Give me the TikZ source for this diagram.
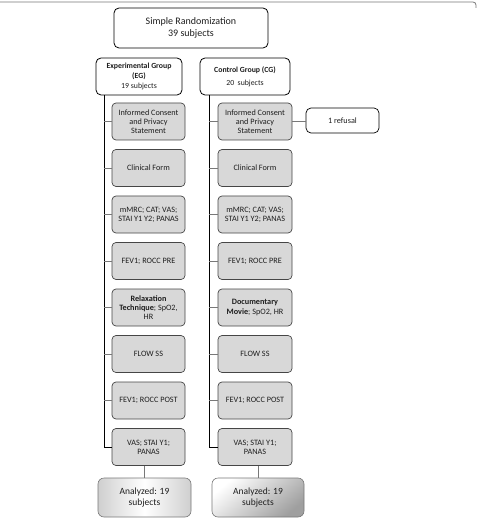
\documentclass[tikz,border=0pt]{standalone}
\usepackage{fontspec}
\setmainfont{Carlito}
\usetikzlibrary{positioning}
\usepackage{xcolor}
\definecolor{stepgray}{RGB}{216,216,216}
\definecolor{edgegray}{RGB}{70,70,70}
\definecolor{linegray}{RGB}{120,120,120}
\definecolor{textdark}{RGB}{30,30,30}

\begin{document}
\begin{tikzpicture}[
  x=1pt, y=1pt,
  node distance=8.8pt,
  headbox/.style={rectangle, rounded corners=5pt, draw=black, fill=white, align=center, line width=0.8pt, text=textdark},
  stepbox/.style={rectangle, rounded corners=4pt, draw=edgegray, fill=stepgray, align=center, font=\fontsize{8.2}{9.2}\selectfont, minimum width=73pt, minimum height=37pt, inner sep=1pt, line width=0.7pt, text=textdark},
  endbox/.style={rectangle, rounded corners=6pt, draw=linegray, align=center, font=\fontsize{9.5}{11.5}\selectfont, minimum width=92pt, minimum height=39pt, line width=0.6pt, text=textdark},
  trunk/.style={line width=0.9pt, draw=black},
  tick/.style={line width=0.6pt, draw=linegray}
]
\useasboundingbox (0,0) rectangle (477,-526);

% outer frame edge
\draw[linegray, line width=0.8pt, rounded corners=3pt] (0,-2) -- (476,-2) -- (476,-8);

% top of the chart
\node[headbox, minimum width=154pt, minimum height=40pt, font=\fontsize{10}{12}\selectfont] (rand) at (191,-28) {Simple Randomization\\39 subjects};
\node[headbox, minimum width=86pt, minimum height=37pt, font=\fontsize{7.8}{10}\selectfont, inner sep=1pt] (eg) at (139,-76.5) {\textbf{Experimental Group}\\\textbf{(EG)}\\19 subjects};
\node[headbox, minimum width=90pt, minimum height=37pt, font=\fontsize{7.8}{13}\selectfont] (cg) at (245,-76.5) {\textbf{Control Group (CG)}\\20~~subjects};

% experimental group steps
\node[stepbox] (e1) at (148.5,-121.5) {Informed Consent\\and Privacy\\Statement};
\node[stepbox, below=of e1] (e2) {Clinical Form};
\node[stepbox, below=of e2] (e3) {mMRC; CAT; VAS;\\STAI Y1 Y2; PANAS};
\node[stepbox, below=of e3] (e4) {FEV1; ROCC PRE};
\node[stepbox, below=of e4] (e5) {\textbf{Relaxation}\\\textbf{Technique}; SpO2,\\HR};
\node[stepbox, below=of e5] (e6) {FLOW SS};
\node[stepbox, below=of e6] (e7) {FEV1; ROCC POST};
\node[stepbox, below=of e7] (e8) {VAS; STAI Y1;\\PANAS};

% control group steps
\node[stepbox, minimum width=74pt] (c1) at (255,-121.5) {Informed Consent\\and Privacy\\Statement};
\node[stepbox, minimum width=74pt, below=of c1] (c2) {Clinical Form};
\node[stepbox, minimum width=74pt, below=of c2] (c3) {mMRC; CAT; VAS;\\STAI Y1 Y2; PANAS};
\node[stepbox, minimum width=74pt, below=of c3] (c4) {FEV1; ROCC PRE};
\node[stepbox, minimum width=74pt, below=of c4] (c5) {\textbf{Documentary}\\\textbf{Movie}; SpO2, HR};
\node[stepbox, minimum width=74pt, below=of c5] (c6) {FLOW SS};
\node[stepbox, minimum width=74pt, below=of c6] (c7) {FEV1; ROCC POST};
\node[stepbox, minimum width=74pt, below=of c7] (c8) {VAS; STAI Y1;\\PANAS};

\node[headbox, minimum width=73pt, minimum height=25pt, font=\fontsize{8.2}{9}\selectfont, line width=0.7pt] (refusal) at (342.5,-120.5) {1 refusal};

% analyzed subjects
\node[endbox, minimum width=93pt, left color=stepgray!90!gray, right color=stepgray!90!gray, middle color=white] (aeg) at (144.5,-497.5) {Analyzed: 19\\subjects};
\node[endbox, top color=white, bottom color=gray!75, shading angle=40] (acg) at (258,-497.5) {Analyzed: 19\\subjects};

% connectors
\coordinate (egl) at (104,-95);
\coordinate (cgl) at (209,-95);
\draw[trunk] (egl) |- (e8.west);
\draw[trunk] (cgl) |- (c8.west);
\foreach \k in {1,...,7} {
  \draw[tick] (e\k.west) -- (e\k.west -| egl);
  \draw[tick] (c\k.west) -- (c\k.west -| cgl);
}
\draw[tick] (c1.east) -- (c1.east -| refusal.west);
\draw[tick] (e8.south -| aeg.north) -- (aeg.north);
\draw[tick] (c8.south -| acg.north) -- (acg.north);
\end{tikzpicture}
\end{document}
